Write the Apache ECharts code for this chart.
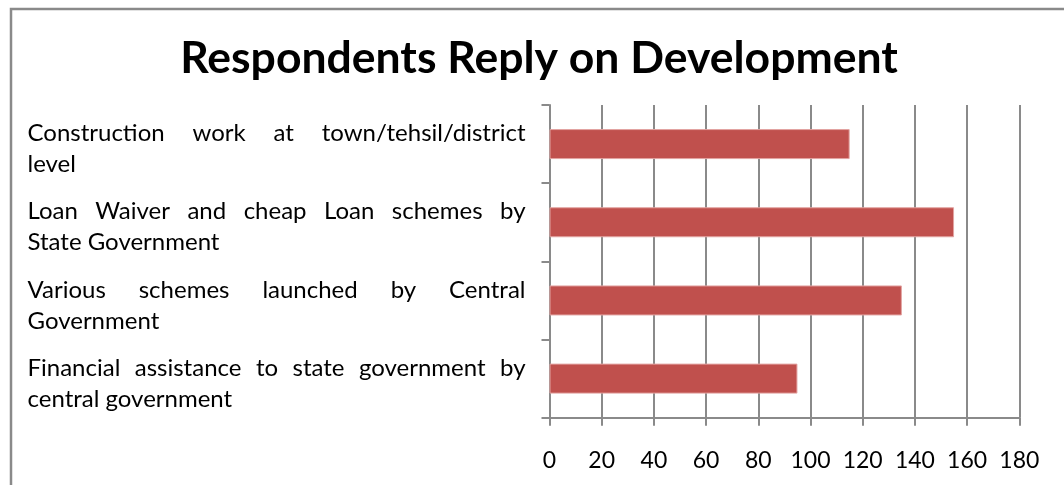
<!DOCTYPE html>
<html>
<head>
<meta charset="utf-8">
<title>Respondents Reply on Development</title>
<script src="https://cdn.jsdelivr.net/npm/echarts@6/dist/echarts.min.js"></script>
<style>
  html, body { margin: 0; padding: 0; background: #fff; }
  #chart { width: 1064px; height: 485px; }
</style>
</head>
<body>
<div id="chart"></div>
<script>
// Category labels, top to bottom, split into their printed lines
const categoryLines = [
  ['Construction work at town/tehsil/district', 'level'],
  ['Loan Waiver and cheap Loan schemes by', 'State Government'],
  ['Various schemes launched by Central', 'Government'],
  ['Financial assistance to state government by', 'central government']
];
const categories = categoryLines.map(l => l.join(' '));
const replies = [115, 155, 135, 95];
const xTicks = [0, 20, 40, 60, 80, 100, 120, 140, 160, 180];

const titleText = 'Respondents Reply on Development';
const FONT = 'Lato';
const LABEL_SIZE = 24;
const LABEL_WIDTH = 498;   // width of a justified label line
const LINE_H = 31;

// Measure words so the first line of each label is justified
const ctx = document.createElement('canvas').getContext('2d');
ctx.font = LABEL_SIZE + 'px ' + FONT;
const rich = {
  plain: { fontFamily: FONT, fontSize: LABEL_SIZE, color: '#000', lineHeight: LINE_H }
};
const labelText = {};
categoryLines.forEach((lines, ci) => {
  const words = lines[0].split(' ');
  const widths = words.map(w => ctx.measureText(w).width);
  const total = widths.reduce((a, b) => a + b, 0);
  const gap = words.length > 1 ? (LABEL_WIDTH - total) / (words.length - 1) : 0;
  let s = '';
  words.forEach((w, wi) => {
    const key = 'c' + ci + 'w' + wi;
    rich[key] = {
      fontFamily: FONT, fontSize: LABEL_SIZE, color: '#000', lineHeight: LINE_H,
      padding: [0, wi < words.length - 1 ? gap : 0, 0, 0]
    };
    s += '{' + key + '|' + w + '}';
  });
  s += '\n{plain|' + lines.slice(1).join(' ') + '}';
  labelText[categories[ci]] = s;
});

const chart = echarts.init(document.getElementById('chart'), null, { renderer: 'canvas' });
const gray = '#8a8a8a';

chart.setOption({
  animation: false,
  backgroundColor: '#fff',
  title: {
    text: titleText,
    left: 534,
    textAlign: 'center',
    top: 31,
    textStyle: { fontFamily: FONT, fontWeight: 'bold', fontSize: 44.5, color: '#000' }
  },
  graphic: [{
    type: 'polyline',
    shape: { points: [[11, 485], [11, 9], [1064, 9]] },
    style: { stroke: gray, lineWidth: 2.5, fill: null },
    silent: true
  }],
  grid: { left: 549.5, right: 44.7, top: 105, bottom: 67.3, containLabel: false },
  xAxis: {
    type: 'value',
    min: xTicks[0],
    max: xTicks[xTicks.length - 1],
    interval: xTicks[1] - xTicks[0],
    axisLine: { show: true, lineStyle: { color: gray, width: 2 } },
    axisTick: { show: true, length: 8, lineStyle: { color: gray, width: 2 } },
    splitLine: { show: true, lineStyle: { color: gray, width: 2 } },
    axisLabel: { fontFamily: FONT, fontSize: 23, color: '#000', margin: 31 }
  },
  yAxis: {
    type: 'category',
    inverse: true,
    data: categories,
    axisLine: { show: true, lineStyle: { color: gray, width: 2 } },
    axisTick: { show: true, length: 8, lineStyle: { color: gray, width: 2 } },
    axisLabel: {
      align: 'left',
      margin: 522,
      padding: [10, 0, 0, 0],
      formatter: v => labelText[v],
      rich: rich
    }
  },
  series: [{
    type: 'bar',
    data: replies,
    barWidth: 30,
    itemStyle: { color: '#C0504D', borderColor: '#e2a3a1', borderWidth: 1 }
  }]
});
</script>
</body>
</html>
